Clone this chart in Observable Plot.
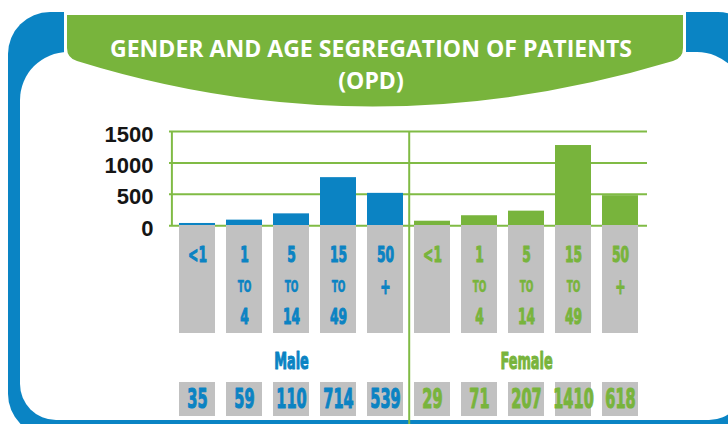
<!DOCTYPE html>
<html>
<head>
<meta charset="utf-8">
<script src="https://cdn.jsdelivr.net/npm/d3@7"></script>
<script src="https://cdn.jsdelivr.net/npm/@observablehq/plot@0.6"></script>
<style>
  html, body { margin: 0; padding: 0; background: #fff; overflow: hidden; }
  #root { position: relative; width: 728px; height: 424px; overflow: hidden; background: #fff; }
  #root > svg { position: absolute; left: 0; }
</style>
</head>
<body>
<div id="root"></div>
<script>
// ---------------- data ----------------
const titleLines = ["GENDER AND AGE SEGREGATION OF PATIENTS", "(OPD)"];
const genders = ["Male", "Female"];
const ageFrom = ["<1", "1", "5", "15", "50"];
const ageJoin = ["", "TO", "TO", "TO", "+"];
const ageTo = ["", "4", "14", "49", ""];
const maleCounts = [35, 59, 110, 714, 539];          // printed counts
const femaleCounts = [29, 71, 207, 1410, 618];
const maleBarHeights = [37, 90, 190, 766, 516];      // bar heights as drawn in the picture
const femaleBarHeights = [73, 160, 233, 1277, 479];
const yTicks = [0, 500, 1000, 1500];

// ---------------- styling ----------------
const BLUE = "#0b83c3", GREEN = "#78b43c", GRID = "#80bb45", GRAY = "#c1c1c1", FRAME = "#0a84c4";

function hasFont(name) {
  const c = document.createElement("canvas").getContext("2d");
  c.font = "bold 40px monospace";
  const a = c.measureText("1410 Female TO").width;
  c.font = `bold 40px "${name}", monospace`;
  return Math.abs(c.measureText("1410 Female TO").width - a) > 0.5;
}
const narrowOK = hasFont("Liberation Sans Narrow");
const NARROW = narrowOK ? '"Liberation Sans Narrow", sans-serif' : '"DejaVu Sans", sans-serif';
const SQUEEZE = narrowOK ? 0.86 : 0.56;

// ---------------- table ----------------
const rows = [];
genders.forEach((g, gi) => ageFrom.forEach((a, ai) => rows.push({
  id: g + "-" + ai, gender: g, ai,
  from: a, join: ageJoin[ai], to: ageTo[ai],
  count: (gi ? femaleCounts : maleCounts)[ai],
  bar: (gi ? femaleBarHeights : maleBarHeights)[ai]
})));
const ids = rows.map(d => d.id);

const LEFT = 169, RIGHT = 647, W = 728, H = 424;
const xOpts = {type: "band", domain: ids, paddingInner: 0.24, paddingOuter: 0.16};
const sx = Plot.scale({x: {...xOpts, range: [LEFT, RIGHT]}});
const dividerDx = sx.step / 2;
const leftDx = sx.range[0] - (sx.apply(ids[0]) + sx.bandwidth / 2);
const common = {
  width: W, marginLeft: LEFT, marginRight: W - RIGHT,
  x: {...xOpts, axis: null},
  color: {domain: genders, range: [BLUE, GREEN]},
  style: {background: "transparent", overflow: "visible"}
};
const divider = () => Plot.ruleX([ids[4]], {dx: dividerDx, stroke: GRID, strokeWidth: 2});

// ---------------- decoration (frame + banner) ----------------
function roundRect(x0, y0, x1, y1, rt, rb) {
  return `M${x0 + rt},${y0}H${x1 - rt}A${rt},${rt} 0 0 1 ${x1},${y0 + rt}V${y1 - rb}` +
    `A${rb},${rb} 0 0 1 ${x1 - rb},${y1}H${x0 + rb}A${rb},${rb} 0 0 1 ${x0},${y1 - rb}` +
    `V${y0 + rt}A${rt},${rt} 0 0 1 ${x0 + rt},${y0}Z`;
}
const deco = d3.create("svg")
  .attr("width", W).attr("height", H).attr("viewBox", `0 0 ${W} ${H}`)
  .style("top", "0px").style("overflow", "hidden");
deco.append("path").attr("d", roundRect(8, 12, 760, 436, 42, 42)).attr("fill", FRAME);
deco.append("path").attr("d", roundRect(20, 52, 745, 420, 48, 36)).attr("fill", "#fff");
deco.append("rect").attr("x", 64).attr("y", 0).attr("width", 622).attr("height", 56).attr("fill", "#fff");
deco.append("path").attr("d", "M67,15H683V48Q683,58 673,61Q370,152 77,61Q67,58 67,48Z").attr("fill", GREEN);
deco.append("text").text(titleLines[0])
  .attr("x", 371).attr("y", 57).attr("text-anchor", "middle")
  .attr("textLength", 522).attr("lengthAdjust", "spacingAndGlyphs")
  .attr("fill", "#fff").attr("font-family", '"Open Sans", sans-serif').attr("font-weight", 700).attr("font-size", 23);
deco.append("text").text(titleLines[1])
  .attr("x", 371).attr("y", 89).attr("text-anchor", "middle")
  .attr("fill", "#fff").attr("font-family", '"Open Sans", sans-serif').attr("font-weight", 700).attr("font-size", 23);
document.getElementById("root").append(deco.node());

// ---------------- bars ----------------
const chartA = Plot.plot({
  ...common, height: 226, marginTop: 131, marginBottom: 0.7,
  y: {domain: [0, 1500], axis: null},
  marks: [
    Plot.ruleY(yTicks, {stroke: GRID, strokeWidth: 2}),
    Plot.ruleX([ids[0]], {dx: leftDx, stroke: GRID, strokeWidth: 2}),
    divider(),
    Plot.barY(rows, {x: "id", y: "bar", fill: "gender"}),
    Plot.text(yTicks, {y: d => d, text: d => String(d), frameAnchor: "left", textAnchor: "end",
      dx: -16, dy: 3, fontSize: 22, fontWeight: "bold", fill: "#151515",
      fontFamily: '"Liberation Sans", Arial, sans-serif'})
  ]
});

// ---------------- age labels ----------------
const labelFont = {fill: "gender", stroke: "gender", strokeWidth: 1.1, fontFamily: NARROW, fontWeight: "bold",
  frameAnchor: "top", lineAnchor: "middle"};
const chartB = Plot.plot({
  ...common, height: 108, marginTop: 0, marginBottom: 0,
  marks: [
    Plot.cell(rows, {x: "id", fill: GRAY}),
    divider(),
    Plot.text(rows, {...labelFont, x: "id", text: "from", dy: 29, fontSize: 22}),
    Plot.text(rows.filter(d => d.join === "TO"), {...labelFont, strokeWidth: 0.6, x: "id", text: "join", dy: 61, fontSize: 16}),
    Plot.text(rows.filter(d => d.join === "+"), {...labelFont, x: "id", text: "join", dy: 61, fontSize: 22}),
    Plot.text(rows, {...labelFont, x: "id", text: "to", dy: 91, fontSize: 22})
  ]
});

// ---------------- gender + counts ----------------
const chartC = Plot.plot({
  ...common, height: 91, marginTop: 0, marginBottom: 0,
  marks: [
    Plot.cell(rows, {x: "id", fill: GRAY, insetTop: 49, insetBottom: 8}),
    divider(),
    Plot.text(rows.filter(d => d.ai === 2), {...labelFont, x: "id", text: "gender", dy: 28, fontSize: 23}),
    Plot.text(rows, {...labelFont, x: "id", text: d => String(d.count), dy: 66, fontSize: 26})
  ]
});

function squeeze(svg, k) {
  d3.select(svg).selectAll("text").each(function () {
    const t = d3.select(this);
    const tr = t.attr("transform");
    if (tr) t.attr("transform", tr + ` scale(${k},1)`);
    else {
      const x = parseFloat(t.attr("x")) || 0;
      t.attr("transform", `translate(${x},0) scale(${k},1) translate(${-x},0)`);
    }
  });
}
squeeze(chartB, SQUEEZE);
squeeze(chartC, SQUEEZE);

[[chartA, 0], [chartB, 225], [chartC, 333]].forEach(([c, top]) => {
  c.style.position = "absolute";
  c.style.left = "0px";
  c.style.top = top + "px";
  document.getElementById("root").append(c);
});
</script>
</body>
</html>
